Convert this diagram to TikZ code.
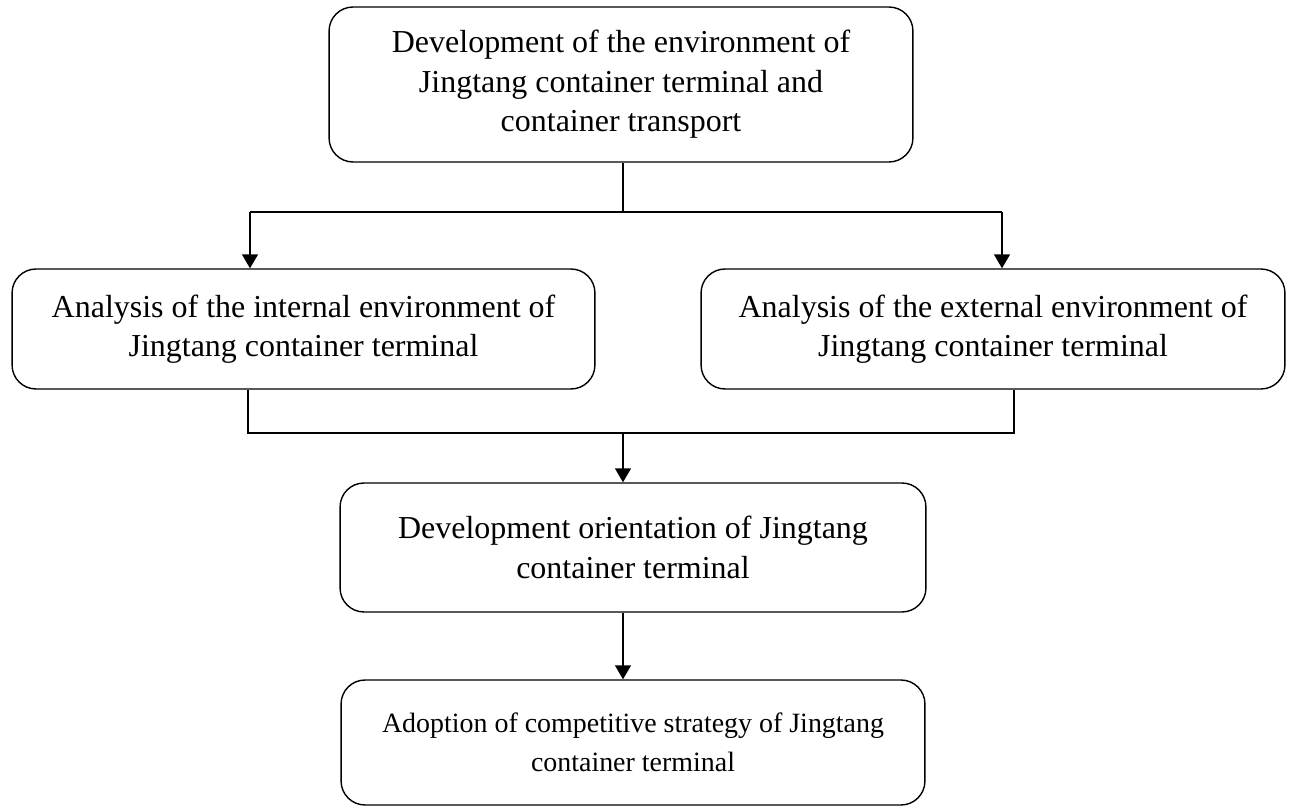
\documentclass[tikz,border=0pt]{standalone}
\usepackage{fontspec}
\setmainfont{Liberation Serif}
\usetikzlibrary{arrows.meta}
\tikzset{
  stagebox/.style={draw,line width=0.8pt,rounded corners=0.48cm,align=center,inner sep=0pt,
    font=\fontsize{18.2pt}{22.4pt}\selectfont},
  flowarrow/.style={line width=0.8pt,-{Triangle[length=0.28cm,width=0.32cm]}},
  flowline/.style={line width=0.8pt}
}
\begin{document}
\begin{tikzpicture}[x=0.02cm,y=-0.02cm]
    \useasboundingbox (0,0) rectangle (1289,807);
    %% Boxes
    \node[stagebox,minimum width=11.68cm,minimum height=3.1cm] (top) at (621,84.5) {Development of the environment of\\Jingtang container terminal and\\container transport};
    \node[stagebox,minimum width=11.66cm,minimum height=2.4cm] (inner) at (303.5,329) {Analysis of the internal environment of\\Jingtang container terminal};
    \node[stagebox,minimum width=11.68cm,minimum height=2.4cm] (outer) at (993,329) {Analysis of the external environment of\\Jingtang container terminal};
    \node[stagebox,minimum width=11.72cm,minimum height=2.58cm] (orient) at (633,547.5) {Development orientation of Jingtang\\container terminal};
    \node[stagebox,minimum width=11.68cm,minimum height=2.5cm,font=\fontsize{15.9pt}{22pt}\selectfont] (strategy) at (633,742.5) {Adoption of competitive strategy of Jingtang\\container terminal};
    %% Junctions
    \coordinate (splitL) at (250,212);
    \coordinate (splitR) at (1002,212);
    \coordinate (splitM) at (623,212);
    \coordinate (joinL) at (248,433);
    \coordinate (joinR) at (1014,433);
    \coordinate (joinM) at (623,433);
    %% Connectors
    \draw[flowline] (splitM |- top.south) -- (splitM);
    \draw[flowline] (splitL) -- (splitR);
    \draw[flowarrow] (splitL) -- (splitL |- inner.north);
    \draw[flowarrow] (splitR) -- (splitR |- outer.north);
    \draw[flowline] (joinL |- inner.south) -- (joinL) -- (joinR) -- (joinR |- outer.south);
    \draw[flowarrow] (joinM) -- (joinM |- orient.north);
    \draw[flowarrow] (joinM |- orient.south) -- (joinM |- strategy.north);
\end{tikzpicture}
\end{document}
